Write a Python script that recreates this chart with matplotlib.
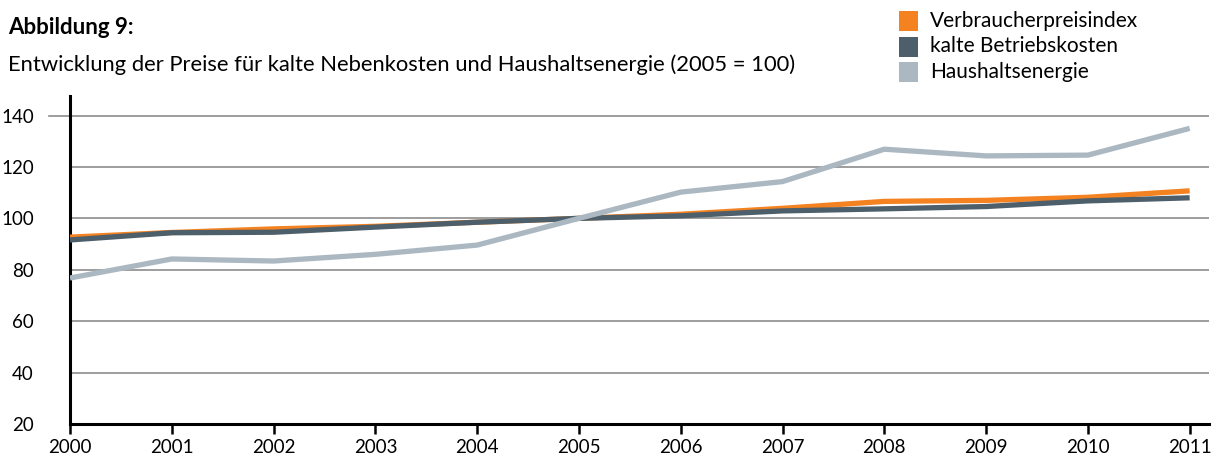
import matplotlib
matplotlib.use("Agg")
import matplotlib.pyplot as plt
from matplotlib.patches import Rectangle
from matplotlib.lines import Line2D

plt.rcParams['font.family'] = ['Lato', 'DejaVu Sans']

years = [2000, 2001, 2002, 2003, 2004, 2005, 2006, 2007, 2008, 2009, 2010, 2011]
vpi = [92.7, 94.5, 95.9, 96.9, 98.5, 100.0, 101.6, 103.9, 106.6, 107.0, 108.2, 110.7]
kalte = [91.6, 94.4, 94.6, 96.6, 98.5, 100.0, 101.0, 102.9, 103.7, 104.6, 106.8, 108.0]
energie = [76.8, 84.2, 83.4, 86.0, 89.6, 100.0, 110.2, 114.3, 126.9, 124.3, 124.6, 135.0]
series_names = ["Verbraucherpreisindex", "kalte Betriebskosten", "Haushaltsenergie"]
colors = ["#F58220", "#4D5F6B", "#ABB8C1"]
yticks = [20, 40, 60, 80, 100, 120, 140]

W, H = 1212, 457
fig = plt.figure(figsize=(W / 100, H / 100), dpi=100)
ax = fig.add_axes([70 / W, 1 - 424 / H, (1209 - 70) / W, (424 - 96) / H])

for v in yticks[1:]:
    ax.axhline(v, color="#8C8C8C", lw=1.2, zorder=1)

for vals, c, z in zip([vpi, kalte, energie], colors, [3, 4, 5]):
    ax.plot(years, vals, color=c, lw=3.8, solid_capstyle="butt", zorder=z)

ax.set_xlim(2000, 2011.19)
ax.set_ylim(20, 147.6)
ax.set_xticks(years)
ax.set_xticklabels([str(y) for y in years])
ax.set_yticks(yticks)
ax.tick_params(axis="x", length=7, width=1.8, color="black", labelsize=13.5, pad=4)
ax.tick_params(axis="y", length=0, labelsize=13.5, pad=26)
for lab in ax.get_yticklabels():
    lab.set_horizontalalignment("right")
for s in ["top", "right"]:
    ax.spines[s].set_visible(False)
for s in ["left", "bottom"]:
    ax.spines[s].set_linewidth(2.2)
    ax.spines[s].set_color("black")

# small extension of the 140 gridline left of the axis
ax.add_line(Line2D([-21 / (1209 - 70), 0], [140, 140], transform=ax.get_yaxis_transform(),
                   color="#8C8C8C", lw=1.2, clip_on=False))

fig.text(8 / W, 1 - 28 / H, "Abbildung 9:", fontsize=16, fontweight="bold", va="center", ha="left")
fig.text(8 / W, 1 - 65 / H, "Entwicklung der Preise für kalte Nebenkosten und Haushaltsenergie (2005 = 100)",
         fontsize=15.8, va="center", ha="left")

for i, (name, c) in enumerate(zip(series_names, colors)):
    yc = 21 + i * 25.5
    fig.patches.append(Rectangle((899 / W, 1 - (yc + 10) / H), 19 / W, 20 / H,
                                 transform=fig.transFigure, facecolor=c, edgecolor="none"))
    fig.text(930 / W, 1 - yc / H, name, fontsize=15, va="center", ha="left")

fig.savefig("out.png", dpi=100)
